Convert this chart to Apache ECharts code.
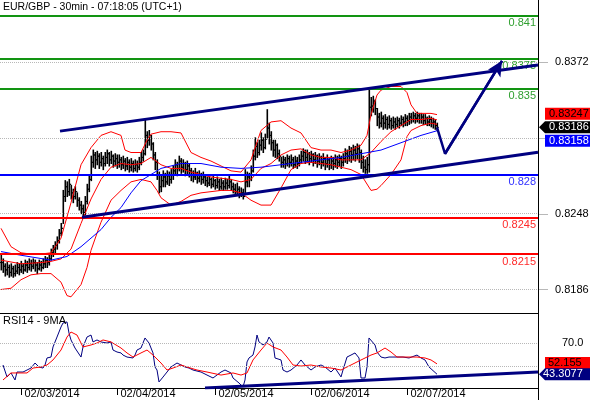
<!DOCTYPE html>
<html><head><meta charset="utf-8">
<script src="https://cdn.jsdelivr.net/npm/echarts@6/dist/echarts.min.js"></script>
<style>html,body{margin:0;padding:0;background:#fff}#c{width:590px;height:400px}</style>
</head><body><div id="c"></div>
<script>
const titleText = 'EUR/GBP - 30min - 07:18:05 (UTC+1)';
const rsiTitle = 'RSI14 - 9MA';

const closes = [
.8208,.8205,.8202,.8204,.8200,.8203,.8199,.8201,.8204,.8202,.8205,.8202,.8206,.8204,.8207,.8205,.8208,.8206,.8203,.8206,.8204,.8207,.8210,.8208,.8211,
.8216,.8219,.8222,.8226,.8232,.8236,
.8262,.8270,.8266,.8272,.8265,.8262,.8266,.8259,.8255,.8252,.8249,.8258,.8268,.8276,
.8290,.8296,.8292,.8295,.8290,.8293,.8289,.8294,.8297,.8292,.8295,.8291,.8293,.8290,
.8292,.8288,.8291,.8287,.8290,.8286,.8289,.8285,.8288,.8286,.8290,.8294,.8297,
.8312,.8308,.8312,.8305,.8296,.8290,.8280,.8270,.8275,
.8278,.8274,.8279,.8276,.8280,.8283,.8288,.8285,.8291,.8286,.8289,.8284,.8287,.8283,
.8280,.8278,.8281,.8277,.8279,.8276,.8278,
.8275,.8273,.8276,.8272,.8275,.8271,.8274,.8270,.8273,.8270,.8273,.8271,.8274,.8270,.8268,
.8266,.8268,.8264,.8265,.8262,
.8274,.8278,.8276,.8283,.8295,.8303,.8298,
.8304,.8308,.8302,.8309,.8318,.8312,.8306,.8300,.8304,.8297,.8295,
.8290,.8292,.8289,.8293,.8290,.8292,.8288,.8291,.8289,.8292,
.8295,.8298,.8294,.8297,.8293,.8296,.8292,.8295,.8291,.8294,
.8290,.8293,.8289,.8292,.8288,.8291,.8289,.8292,.8290,.8293,
.8290,.8293,.8297,.8295,.8299,.8296,.8300,.8297,.8301,.8298,
.8290,.8286,.8284,.8288,.8335,.8336,.8340,.8334,.8327,.8322,
.8326,.8322,.8325,.8321,.8324,.8320,.8323,.8321,
.8324,.8322,.8325,.8323,.8326,.8324,.8327,
.8325,.8328,.8326,.8328,.8325,.8327,.8324,
.8326,.8323,.8325,.8322,.8323,.8320,.83186];
const highs = [
.8214,.8211,.8207,.8208,.8206,.8207,.8205,.8206,.8208,.8207,.8209,.8207,.8210,.8209,.8211,.8210,.8211,.8210,.8208,.8210,.8209,.8211,.8213,.8212,.8214,
.8219,.8222,.8225,.8229,.8235,.8240,
.8267,.8275,.8274,.8276,.8271,.8268,.8270,.8265,.8261,.8258,.8255,.8262,.8272,.8279,
.8295,.8300,.8298,.8299,.8297,.8298,.8295,.8298,.8300,.8298,.8299,.8296,.8297,.8296,
.8296,.8294,.8295,.8293,.8294,.8292,.8293,.8291,.8292,.8291,.8294,.8298,.8300,
.8325,.8315,.8316,.8312,.8306,.8298,.8292,.8282,.8280,
.8283,.8281,.8283,.8282,.8284,.8287,.8292,.8290,.8295,.8293,.8292,.8290,.8291,.8289,
.8285,.8283,.8285,.8282,.8283,.8281,.8282,
.8279,.8278,.8280,.8277,.8279,.8276,.8278,.8276,.8277,.8275,.8277,.8276,.8279,.8276,.8273,
.8272,.8273,.8270,.8269,.8268,
.8284,.8282,.8281,.8287,.8300,.8310,.8306,
.8308,.8314,.8310,.8313,.8333,.8322,.8315,.8308,.8308,.8305,.8300,
.8294,.8295,.8294,.8296,.8295,.8296,.8294,.8295,.8294,.8296,
.8299,.8301,.8300,.8300,.8298,.8299,.8297,.8298,.8296,.8297,
.8295,.8297,.8294,.8296,.8293,.8295,.8294,.8296,.8295,.8296,
.8295,.8297,.8301,.8300,.8303,.8302,.8304,.8303,.8305,.8304,
.8300,.8295,.8292,.8294,.8349,.8343,.8344,.8341,.8334,.8330,
.8331,.8328,.8329,.8327,.8328,.8326,.8327,.8326,
.8327,.8326,.8328,.8327,.8329,.8328,.8330,
.8330,.8331,.8330,.8331,.8330,.8330,.8329,
.8329,.8327,.8328,.8327,.8326,.8325,.8322];
const lows = [
.8202,.8200,.8197,.8198,.8196,.8197,.8196,.8197,.8199,.8198,.8200,.8199,.8201,.8200,.8202,.8201,.8203,.8201,.8199,.8202,.8201,.8203,.8204,.8204,.8206,
.8210,.8213,.8216,.8219,.8224,.8230,
.8240,.8258,.8262,.8263,.8260,.8257,.8260,.8254,.8251,.8248,.8245,.8247,.8256,.8266,
.8275,.8286,.8285,.8288,.8285,.8287,.8284,.8287,.8289,.8287,.8289,.8286,.8287,.8285,
.8286,.8284,.8285,.8283,.8284,.8282,.8283,.8282,.8283,.8282,.8284,.8288,.8291,
.8296,.8302,.8304,.8300,.8292,.8284,.8276,.8265,.8266,
.8270,.8270,.8272,.8271,.8273,.8276,.8280,.8279,.8283,.8281,.8282,.8279,.8280,.8278,
.8275,.8274,.8276,.8273,.8274,.8272,.8273,
.8271,.8270,.8271,.8269,.8270,.8268,.8269,.8267,.8268,.8267,.8268,.8268,.8269,.8267,.8265,
.8263,.8263,.8261,.8262,.8260,
.8264,.8270,.8270,.8275,.8282,.8292,.8294,
.8296,.8300,.8298,.8301,.8310,.8305,.8300,.8295,.8294,.8293,.8291,
.8286,.8286,.8285,.8287,.8286,.8287,.8285,.8286,.8285,.8287,
.8289,.8291,.8289,.8290,.8288,.8290,.8287,.8289,.8286,.8288,
.8285,.8287,.8284,.8286,.8284,.8285,.8284,.8286,.8285,.8287,
.8285,.8287,.8290,.8289,.8291,.8290,.8292,.8291,.8293,.8290,
.8285,.8282,.8281,.8281,.8282,.8328,.8331,.8329,.8320,.8318,
.8319,.8317,.8318,.8317,.8318,.8317,.8318,.8317,
.8319,.8318,.8320,.8319,.8320,.8320,.8321,
.8322,.8323,.8322,.8323,.8322,.8322,.8321,
.8321,.8320,.8320,.8319,.8318,.8317,.8316];

const bbUpper = [[0,.8236],[5,.8221],[10,.8216],[15,.8215],[20,.8215],[25,.8216],[30,.8228],[35,.8257],[40,.8288],[45,.8302],[50,.8312],[55,.8315],[60,.8312],[62,.8300],[65,.8298],[70,.8298],[73,.8308],[75,.8313],[80,.8315],[85,.8315],[90,.8314],[95,.8298],[100,.8294],[105,.8291],[110,.8287],[115,.8283],[120,.8282],[125,.8292],[130,.8316],[135,.8323],[140,.8324],[145,.8318],[150,.8314],[155,.8302],[160,.8300],[165,.8300],[170,.8298],[175,.8300],[180,.8304],[183,.8312],[185,.8329],[188,.8345],[190,.8349],[195,.8352],[200,.8352],[203,.8347],[205,.8337],[208,.8330],[212,.8330],[215,.8330],[218,.8329]];
const bbMiddle = [[0,.8210],[10,.8207],[20,.8208],[25,.8209],[30,.8211],[35,.8219],[40,.8240],[45,.8260],[50,.8276],[55,.8286],[60,.8289],[65,.8288],[70,.8289],[75,.8294],[80,.8288],[85,.8285],[90,.8285],[95,.8282],[100,.8280],[105,.8278],[110,.8277],[115,.8276],[120,.8274],[125,.8276],[130,.8285],[135,.8289],[140,.8296],[145,.8300],[150,.8301],[155,.8296],[160,.8294],[165,.8294],[170,.8292],[175,.8292],[180,.8292],[185,.8298],[190,.8307],[195,.8315],[200,.8320],[205,.8325],[210,.8325],[215,.8326],[218,.83247]];
const bbLower = [[0,.8186],[5,.8187],[10,.8194],[15,.8198],[20,.8199],[25,.8199],[30,.8192],[33,.8181],[35,.8180],[40,.8190],[43,.8204],[45,.8218],[48,.8232],[50,.8241],[55,.8259],[60,.8267],[65,.8274],[70,.8276],[75,.8274],[78,.8267],[80,.8261],[85,.8255],[90,.8258],[95,.8263],[100,.8265],[105,.8266],[110,.8267],[115,.8267],[120,.8265],[125,.8259],[130,.8255],[135,.8255],[140,.8269],[145,.8284],[150,.8289],[155,.8290],[160,.8289],[165,.8288],[170,.8286],[175,.8284],[180,.8280],[185,.8267],[188,.8268],[190,.8271],[195,.8280],[200,.8292],[203,.8311],[205,.8316],[210,.8320],[215,.8322],[218,.8321]];
const maLine = [[0,.8217],[10,.8214],[25,.8210],[33,.8213],[40,.8221],[45,.8228],[50,.8235],[55,.8245],[60,.8253],[65,.8265],[70,.8275],[75,.8280],[80,.8285],[90,.8289],[100,.8289],[110,.8286],[120,.8285],[130,.8286],[140,.8288],[150,.8290],[160,.8292],[170,.8294],[180,.8297],[190,.8300],[200,.8306],[210,.8312],[218,.83158]];

const rsi = [[1,51.2],[3,41.0],[5,44.4],[7,38.4],[8,45.2],[11,45.2],[15,48.6],[17,52.9],[19,49.5],[21,48.6],[22,51.2],[23,57.2],[25,58.0],[26,66.6],[28,75.1],[30,83.7],[31,87.1],[32,88.0],[33,88.0],[34,78.5],[35,72.6],[37,65.7],[40,58.0],[41,66.6],[43,75.1],[45,76.8],[46,70.9],[48,72.6],[50,70.9],[51,72.6],[53,70.0],[55,70.9],[56,64.0],[58,62.3],[60,61.5],[61,59.7],[63,58.0],[66,57.2],[67,59.7],[68,64.0],[70,65.7],[71,70.0],[72,74.3],[74,70.0],[76,61.5],[77,49.5],[78,46.9],[79,36.7],[81,40.9],[83,45.2],[85,49.5],[86,51.2],[88,52.9],[90,51.2],[92,49.5],[94,48.6],[96,46.9],[100,45.2],[103,42.6],[106,40.1],[110,45.2],[112,46.9],[115,44.4],[116,40.1],[119,35.8],[121,32.4],[122,38.4],[123,53.8],[124,57.2],[126,59.7],[127,66.6],[128,76.8],[129,70.9],[131,68.3],[133,70.9],[134,75.1],[136,70.0],[137,57.2],[140,55.5],[141,46.9],[143,45.2],[145,46.9],[146,48.6],[148,51.2],[150,55.5],[152,51.2],[155,46.9],[157,49.5],[160,51.2],[162,49.5],[165,45.2],[167,48.6],[170,41.0],[171,46.9],[173,58.0],[175,59.7],[177,61.5],[179,57.2],[180,40.1],[182,40.1],[183,49.5],[184,74.3],[185,72.6],[187,68.3],[188,62.3],[190,58.0],[192,57.2],[194,58.0],[198,58.0],[201,58.0],[204,57.2],[208,59.7],[210,57.2],[212,55.5],[214,49.5],[218,43.3077]];
const rsiMA = [[1,38.4],[5,44.4],[10,44.4],[13,44.4],[16,48.6],[20,49.5],[23,51.2],[26,55.5],[30,64.0],[33,75.1],[35,79.4],[38,76.8],[41,66.6],[45,68.3],[48,70.0],[51,72.6],[55,70.9],[60,65.7],[63,61.5],[66,58.0],[70,61.5],[73,64.0],[76,59.7],[80,52.9],[83,46.9],[86,48.6],[90,51.2],[93,49.5],[98,46.9],[103,45.2],[110,42.6],[116,44.4],[120,42.6],[123,44.4],[126,55.5],[130,64.0],[133,70.0],[136,66.6],[140,64.0],[143,58.0],[146,51.2],[150,50.3],[155,51.2],[160,49.5],[165,48.6],[170,46.9],[173,49.5],[178,53.8],[185,59.7],[188,61.5],[192,65.7],[195,62.3],[198,58.0],[203,58.0],[208,58.0],[212,57.2],[215,55.5],[218,52.155]];
const rsiTrend = [[102,31.6],[268.5,45.3]];

const channelUpper = [[29.5,0.83155],[268.5,0.83695]];
const channelLower = [[40.5,0.8245],[268.5,0.82983]];
const projection = [[218,0.83186],[222,0.8297],[250.5,0.8373]];

const levelValues = [0.841,0.8375,0.835,0.828,0.8245,0.8215];
const levelLabels = ['0.841','0.8375','0.835','0.828','0.8245','0.8215'];
const priceGridValues = [0.8186,0.8248,0.8310,0.8372];
const priceGridLabels = ['0.8186','0.8248','','0.8372'];
const rsiGridValues = [50,70];
const rsiGridLabels = ['','70.0'];
const dayTicks = [10,58,107,155,203];
const dayLabels = ['02/03/2014','02/04/2014','02/05/2014','02/06/2014','02/07/2014'];
const lastBand = 0.83247, lastPrice = 0.83186, lastMA = 0.83158, lastRsiMA = 52.155, lastRsi = 43.3077;

const FONT = '"Liberation Sans", Arial, sans-serif';
const levelLine = ['#129412','#129412','#129412','#0000ff','#ff0000','#ff0000'];
const levelText = ['#2f9f2f','#2f9f2f','#2f9f2f','#3030ff','#ff2a2a','#ff2a2a'];
const NAVY = '#000080';

const chart = echarts.init(document.getElementById('c'));
const ohlc = closes.map((c, i) => [i, i ? closes[i-1] : c, c, lows[i], highs[i]]);

const markData = [];
priceGridValues.forEach((v, k) => markData.push({
  yAxis: v, lineStyle: {type: 'dotted', color: '#b8b8b8', width: 1},
  label: {show: !!priceGridLabels[k], position: 'end', formatter: priceGridLabels[k], color: '#000', fontSize: 11, fontFamily: FONT, distance: 17}
}));
levelValues.forEach((v, k) => markData.push({
  yAxis: v, lineStyle: {type: 'solid', color: levelLine[k], width: 2},
  label: {show: true, position: 'insideEndBottom', formatter: levelLabels[k], color: levelText[k], fontSize: 11, fontFamily: FONT, distance: 2}
}));
const rsiMark = rsiGridValues.map((v, k) => ({
  yAxis: v, lineStyle: {type: 'dotted', color: '#b8b8b8', width: 1},
  label: {show: !!rsiGridLabels[k], position: 'end', formatter: rsiGridLabels[k], color: '#000', fontSize: 11, fontFamily: FONT, distance: 24}
}));

function lineS(data, color, width, xi, z) {
  return {type: 'line', data: data, xAxisIndex: xi, yAxisIndex: xi, showSymbol: false, symbol: 'none', silent: true, z: z,
    lineStyle: {color: color, width: width}, itemStyle: {color: color}};
}

const option = {
  animation: false,
  backgroundColor: '#fff',
  grid: [{left: 0, top: 0, width: 538, height: 312}, {left: 0, top: 313, width: 538, height: 75}],
  xAxis: [
    {type: 'value', gridIndex: 0, min: -0.5, max: 268.5, show: false},
    {type: 'value', gridIndex: 1, min: -0.5, max: 268.5, axisLine: {show: true, onZero: false, lineStyle: {color: '#000', width: 1}},
     axisTick: {show: false}, axisLabel: {show: false}, splitLine: {show: false}}
  ],
  yAxis: [
    {type: 'value', gridIndex: 0, min: 0.81676, max: 0.84227, show: false},
    {type: 'value', gridIndex: 1, min: 31.54, max: 95.64, show: false}
  ],
  series: [
    {type: 'custom', xAxisIndex: 0, yAxisIndex: 0, z: 2, silent: true, data: ohlc, encode: {x: 0, y: [1, 2, 3, 4]},
     renderItem: function (params, api) {
       const i = api.value(0);
       const pH = api.coord([i, api.value(4)]), pL = api.coord([i, api.value(3)]);
       const pO = api.coord([i, api.value(1)]), pC = api.coord([i, api.value(2)]);
       const x = Math.round(pH[0]) + 0.3;
       return {type: 'group', children: [
         {type: 'line', shape: {x1: x, y1: pH[1] - 0.5, x2: x, y2: pL[1] + 0.5}, style: {stroke: '#000', lineWidth: 1.6}},
         {type: 'line', shape: {x1: x - 1.5, y1: pO[1], x2: x, y2: pO[1]}, style: {stroke: '#000', lineWidth: 1}},
         {type: 'line', shape: {x1: x, y1: pC[1], x2: x + 1.5, y2: pC[1]}, style: {stroke: '#000', lineWidth: 1}}
       ]};
     }},
    lineS(bbUpper, '#ff0000', 1, 0, 3),
    lineS(bbMiddle, '#ff0000', 1, 0, 3),
    lineS(bbLower, '#ff0000', 1, 0, 3),
    Object.assign(lineS(maLine, '#0000ff', 1, 0, 3), {markLine: {symbol: 'none', silent: true, animation: false, precision: 6, data: markData}}),
    lineS(channelUpper, NAVY, 3, 0, 5),
    lineS(channelLower, NAVY, 3, 0, 5),
    Object.assign(lineS(projection, NAVY, 2.5, 0, 6), {markLine: {silent: true, animation: false, precision: 6, symbol: ['none', 'arrow'], symbolSize: [11, 15],
      lineStyle: {color: NAVY, width: 2.5, type: 'solid'}, label: {show: false},
      data: [[{coord: projection[1]}, {coord: projection[2]}]]}}),
    lineS(rsi, NAVY, 1, 1, 3),
    Object.assign(lineS(rsiMA, '#ff0000', 1, 1, 3), {markLine: {symbol: 'none', silent: true, animation: false, precision: 4, data: rsiMark}}),
    lineS(rsiTrend, NAVY, 3, 1, 4)
  ]
};
chart.setOption(option);

const yP = v => chart.convertToPixel({yAxisIndex: 0}, v);
const yR = v => chart.convertToPixel({yAxisIndex: 1}, v);
const xP = i => chart.convertToPixel({xAxisIndex: 1}, i);

const g = [];
g.push({type: 'line', shape: {x1: 538.5, y1: 0, x2: 538.5, y2: 400}, style: {stroke: '#000', lineWidth: 1}, z: 100});
g.push({type: 'line', shape: {x1: 0, y1: 313.5, x2: 538, y2: 313.5}, style: {stroke: '#000', lineWidth: 1}, z: 100});
g.push({type: 'text', x: 3, y: 7, style: {text: titleText, font: '10.5px ' + FONT, fill: '#000', verticalAlign: 'middle'}, z: 100});
g.push({type: 'text', x: 3, y: 321, style: {text: rsiTitle, font: '11px ' + FONT, fill: '#000', verticalAlign: 'middle'}, z: 100});
dayTicks.forEach((t, k) => {
  const x = Math.round(xP(t)) + 0.5;
  g.push({type: 'line', shape: {x1: x, y1: 388, x2: x, y2: 395}, style: {stroke: '#000', lineWidth: 1}, z: 100});
  g.push({type: 'text', x: x + 3, y: 394, style: {text: dayLabels[k], font: '11px ' + FONT, fill: '#000', verticalAlign: 'middle'}, z: 100});
});
priceGridValues.forEach(v => {
  const y = Math.round(yP(v)) + 0.5;
  g.push({type: 'line', shape: {x1: 539, y1: y, x2: 548, y2: y}, style: {stroke: '#b8b8b8', lineWidth: 1}, z: 50});
});
function box(yc, fill, txtColor, text, arrow, tx) {
  if (arrow) {
    g.push({type: 'polygon', shape: {points: [[539, yc], [545, yc - 6], [590, yc - 6], [590, yc + 6], [545, yc + 6]]}, style: {fill: fill}, z: 110});
  } else {
    g.push({type: 'rect', shape: {x: 545, y: yc - 6, width: 45, height: 12}, style: {fill: fill}, z: 110});
  }
  g.push({type: 'text', x: tx, y: yc, style: {text: text, font: '11px ' + FONT, fill: txtColor, verticalAlign: 'middle'}, z: 111});
}
box(yP(lastBand) - 6, '#ff0000', '#000', lastBand.toFixed(5), false, 549);
box(yP(lastMA) + 10, '#0000ff', '#fff', lastMA.toFixed(5), false, 549);
box(yP(lastPrice), '#000', '#fff', lastPrice.toFixed(5), true, 549);
box(yR(lastRsiMA) - 1, '#ff0000', '#000', String(lastRsiMA), false, 548);
box(yR(lastRsi), NAVY, '#fff', String(lastRsi), true, 543);
chart.setOption({graphic: g});
</script>
</body></html>
